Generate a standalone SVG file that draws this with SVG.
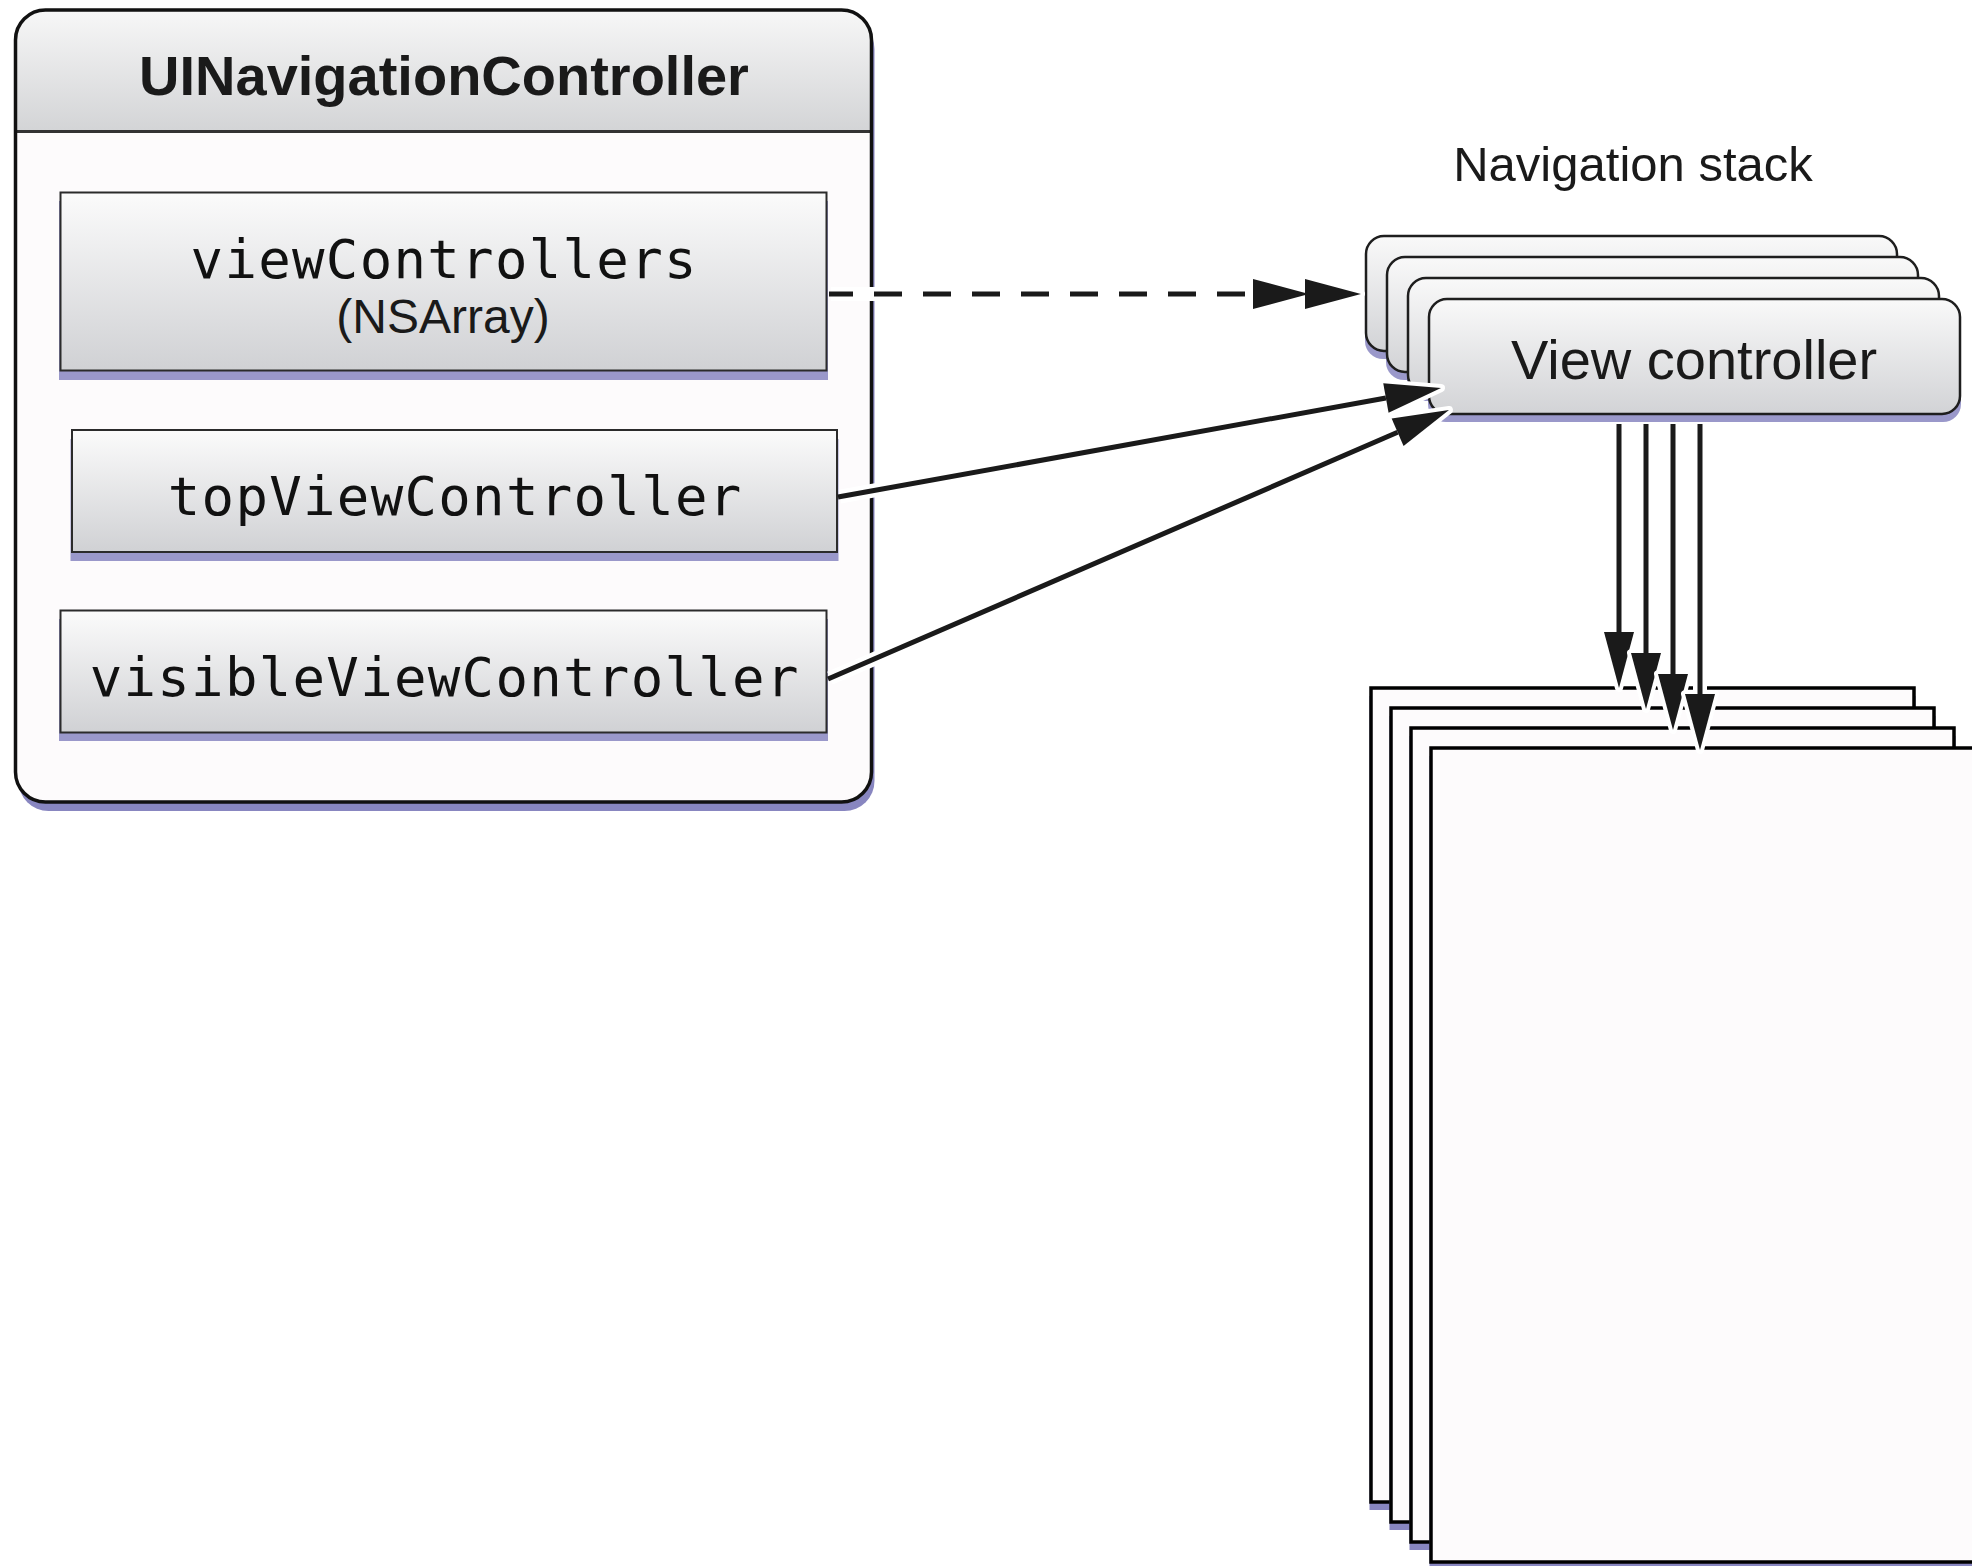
<svg xmlns="http://www.w3.org/2000/svg" width="1972" height="1566" viewBox="0 0 1972 1566">
<defs>
<linearGradient id="gBox" x1="0" y1="0" x2="0" y2="1"><stop offset="0" stop-color="#fbfbfb"/><stop offset="1" stop-color="#d0d1d4"/></linearGradient>
<linearGradient id="gHead" x1="0" y1="0" x2="0" y2="1"><stop offset="0" stop-color="#f7f7f7"/><stop offset="1" stop-color="#d3d4d6"/></linearGradient>
<linearGradient id="gVC" x1="0" y1="0" x2="0" y2="1"><stop offset="0" stop-color="#f9f9f9"/><stop offset="1" stop-color="#d2d3d6"/></linearGradient>
<marker id="ah" markerUnits="userSpaceOnUse" viewBox="-8 -24 72 48" refX="0" refY="0" markerWidth="72" markerHeight="48" orient="auto" overflow="visible">
<path d="M0,-15 L56,0 L0,15 Z" fill="#1a1a1a"/>
</marker>
<marker id="ahHalo" markerUnits="userSpaceOnUse" viewBox="-8 -24 72 48" refX="0" refY="0" markerWidth="72" markerHeight="48" orient="auto" overflow="visible">
<path d="M0,-15 L56,0 L0,15 Z" fill="#fff" stroke="#fff" stroke-width="8" stroke-linejoin="round"/>
</marker>
<style>
.shadow{fill:#9a98ca}
.shadowDark{fill:#8886c0}
.inbox{fill:url(#gBox);stroke:#2b2b2b;stroke-width:2}
.vc{fill:url(#gVC);stroke:#1e1e1e;stroke-width:2.5}
.page{fill:#fdfbfc;stroke:#000;stroke-width:3.5}
.mono{font-family:"DejaVu Sans Mono","Liberation Mono",monospace;font-size:54px;letter-spacing:1.3px;fill:#111;text-anchor:middle}
.sans{font-family:"Liberation Sans",Arial,sans-serif;fill:#1a1a1a;text-anchor:middle}
.conn{fill:none;stroke:#1a1a1a;stroke-width:5}
.halo{fill:none;stroke:#fff;stroke-width:14}
</style>
</defs>
<rect width="1972" height="1566" fill="#fff"/>

<g id="uinavigationcontroller">
<rect class="shadowDark" x="18.5" y="19" width="856" height="792" rx="30"/>
<rect x="15.5" y="10" width="856" height="792" rx="30" fill="#fdfbfc"/>
<path d="M15.5,131.5 V40 A30,30 0 0 1 45.5,10 H841.5 A30,30 0 0 1 871.5,40 V131.5 Z" fill="url(#gHead)"/>
<line x1="15.5" y1="131.5" x2="871.5" y2="131.5" stroke="#333" stroke-width="3"/>
<text class="sans" x="444" y="95" font-size="56" font-weight="bold">UINavigationController</text>
<rect x="15.5" y="10" width="856" height="792" rx="30" fill="none" stroke="#111" stroke-width="3.5"/>
</g>

<g id="viewControllers">
<rect class="shadow" x="59" y="201" width="769" height="179"/>
<rect class="inbox" x="60.5" y="192.5" width="766" height="178"/>
<text class="mono" x="444.2" y="278">viewControllers</text>
<text class="sans" x="443" y="333" font-size="48">(NSArray)</text>
</g>

<g id="topViewController">
<rect class="shadow" x="70.5" y="439" width="768" height="122"/>
<rect class="inbox" x="72" y="430" width="765" height="122"/>
<text class="mono" x="455.2" y="515">topViewController</text>
</g>

<g id="visibleViewController">
<rect class="shadow" x="59" y="619" width="769" height="122"/>
<rect class="inbox" x="60.5" y="610.5" width="766" height="122"/>
<text class="mono" x="444.7" y="696">visibleViewController</text>
</g>

<text class="sans" x="1633" y="181" font-size="49">Navigation stack</text>

<g id="view-controller-stack">
<rect class="shadow" x="1365" y="244" width="533" height="115" rx="18"/>
<rect class="vc" x="1366" y="236" width="531" height="115" rx="18"/>
<rect class="shadow" x="1386" y="265" width="533" height="115" rx="18"/>
<rect class="vc" x="1387" y="257" width="531" height="115" rx="18"/>
<rect class="shadow" x="1407" y="286" width="533" height="115" rx="18"/>
<rect class="vc" x="1408" y="278" width="531" height="115" rx="18"/>
<rect class="shadow" x="1428" y="307" width="533" height="115" rx="18"/>
<rect class="vc" x="1429" y="299" width="531" height="115" rx="18"/>
<text class="sans" x="1694" y="379" font-size="56">View controller</text>
</g>

<g id="views">
<rect class="shadowDark" x="1369.5" y="696" width="546" height="814"/>
<rect class="page" x="1371" y="688" width="543" height="814"/>
<rect class="shadowDark" x="1389.5" y="716" width="546" height="814"/>
<rect class="page" x="1391" y="708" width="543" height="814"/>
<rect class="shadowDark" x="1409.5" y="736" width="546" height="814"/>
<rect class="page" x="1411" y="728" width="543" height="814"/>
<rect class="shadowDark" x="1429.5" y="756" width="546" height="814"/>
<rect class="page" x="1431" y="748" width="543" height="814"/>
</g>

<g id="connectors">
<path class="halo" d="M831,294 L1253,294 L1305,294" marker-mid="url(#ahHalo)" marker-end="url(#ahHalo)"/>
<path class="conn" d="M829,294 L1253,294 L1305,294" stroke-dasharray="28 21" stroke-dashoffset="4" marker-mid="url(#ah)" marker-end="url(#ah)"/>

<path class="halo" d="M840,496.6 L1385.9,398" marker-end="url(#ahHalo)"/>
<path class="conn" d="M838,497 L1385.9,398" marker-end="url(#ah)"/>

<path class="halo" d="M830,678.1 L1397.6,432.3" marker-end="url(#ahHalo)"/>
<path class="conn" d="M828,679 L1397.6,432.3" marker-end="url(#ah)"/>

<path class="halo" d="M1619,425 L1619,632" marker-end="url(#ahHalo)"/>
<path class="conn" d="M1619,424 L1619,632" marker-end="url(#ah)"/>
<path class="halo" d="M1646,425 L1646,653" marker-end="url(#ahHalo)"/>
<path class="conn" d="M1646,424 L1646,653" marker-end="url(#ah)"/>
<path class="halo" d="M1673,425 L1673,674" marker-end="url(#ahHalo)"/>
<path class="conn" d="M1673,424 L1673,674" marker-end="url(#ah)"/>
<path class="halo" d="M1700,425 L1700,694" marker-end="url(#ahHalo)"/>
<path class="conn" d="M1700,424 L1700,694" marker-end="url(#ah)"/>
</g>
</svg>
